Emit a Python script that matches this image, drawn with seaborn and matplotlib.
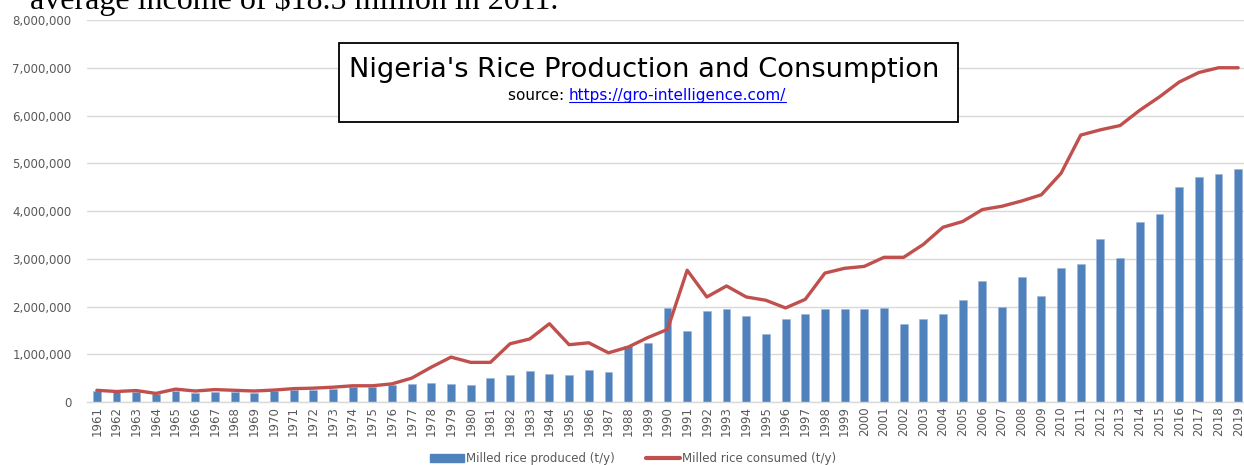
import pandas as pd
import matplotlib.pyplot as plt
import seaborn as sns
from matplotlib.patches import Patch, Rectangle
from matplotlib.lines import Line2D
from matplotlib.ticker import FuncFormatter, MultipleLocator

years = [str(y) for y in range(1961, 2020)]

# milled rice produced (t/y)
produced = [220000, 200000, 200000, 165000, 230000, 195000, 210000, 200000, 195000, 220000,
            245000, 260000, 280000, 310000, 310000, 350000, 385000, 390000, 370000, 360000,
            510000, 560000, 640000, 590000, 560000, 660000, 620000, 1170000, 1240000, 1970000,
            1480000, 1900000, 1940000, 1810000, 1430000, 1740000, 1850000, 1940000, 1940000, 1940000,
            1960000, 1630000, 1740000, 1850000, 2130000, 2530000, 1990000, 2620000, 2220000, 2810000,
            2880000, 3410000, 3020000, 3760000, 3930000, 4510000, 4720000, 4780000, 4890000]

# milled rice consumed (t/y)
consumed = [245000, 220000, 240000, 180000, 270000, 230000, 260000, 245000, 230000, 250000,
            280000, 290000, 310000, 340000, 340000, 380000, 500000, 730000, 940000, 830000,
            830000, 1220000, 1320000, 1640000, 1200000, 1240000, 1030000, 1150000, 1350000, 1520000,
            2760000, 2200000, 2430000, 2200000, 2130000, 1970000, 2150000, 2700000, 2800000, 2840000,
            3030000, 3030000, 3300000, 3660000, 3780000, 4030000, 4100000, 4210000, 4340000, 4790000,
            5590000, 5700000, 5790000, 6110000, 6390000, 6700000, 6900000, 7000000, 7000000]

df = pd.DataFrame({'year': years, 'produced': produced, 'consumed': consumed})

BLUE = '#4F81BD'
RED = '#C0504D'
GREY = '#595959'

sns.set_style('white')
plt.rcParams['font.family'] = ['DejaVu Sans']

W, H = 1244, 465
fig = plt.figure(figsize=(W / 100, H / 100), dpi=100)
ax = fig.add_axes([87 / W, (H - 402) / H, (1248 - 87) / W, (402 - 20) / H])

sns.barplot(data=df, x='year', y='produced', color=BLUE, width=0.4, ax=ax,
            edgecolor='#9DB5DA', linewidth=0.4, saturation=1)
sns.lineplot(data=df, x='year', y='consumed', color=RED, lw=2.4, ax=ax, sort=False)

ax.set_xlim(-0.5, len(years) - 0.5)
ax.set_ylim(0, 8000000)
ax.yaxis.set_major_locator(MultipleLocator(1000000))
ax.yaxis.set_major_formatter(FuncFormatter(lambda v, p: f'{v:,.0f}'))
ax.yaxis.grid(True, color='#D9D9D9', lw=1.0)
ax.set_axisbelow(True)
ax.set_xlabel('')
ax.set_ylabel('')
for s in ['left', 'right', 'top']:
    ax.spines[s].set_visible(False)
ax.spines['bottom'].set_color('#D9D9D9')
ax.spines['bottom'].set_linewidth(1.0)

ax.tick_params(axis='y', length=0, pad=11, labelsize=8.5, labelcolor=GREY)
ax.tick_params(axis='x', which='major', length=0, pad=3, labelsize=8.5, labelcolor=GREY,
               rotation=90)
ax.set_xticks([i - 0.5 for i in range(len(years) + 1)], minor=True)
ax.tick_params(axis='x', which='minor', length=5, color='#D9D9D9', width=1.0)

# title box
fig.patches.append(Rectangle((339 / W, 1 - 122 / H), (958 - 339) / W, (122 - 43) / H,
                             transform=fig.transFigure, facecolor='white', edgecolor='black',
                             lw=1.3, zorder=5))
fig.text(644 / W, 1 - 77 / H, "Nigeria's Rice Production and Consumption",
         ha='center', va='baseline', fontsize=19.6, color='black', zorder=6)
fig.text(569 / W, 1 - 100 / H, 'source: ', ha='right', va='baseline', fontsize=11,
         color='black', zorder=6)
link = fig.text(569 / W, 1 - 100 / H, 'https://gro-intelligence.com/', ha='left',
                va='baseline', fontsize=11, color='#0000FF', zorder=6)
fig.canvas.draw()
bb = link.get_window_extent().transformed(fig.transFigure.inverted())
fig.add_artist(Line2D([bb.x0, bb.x1], [1 - 102.5 / H, 1 - 102.5 / H], color='#0000FF', lw=0.8,
                      transform=fig.transFigure, zorder=6))

# clipped sentence from the surrounding document
fig.text(30 / W, 1 - 9.5 / H, 'average income of $18.5 million in 2011.',
         family=['Liberation Serif'], fontsize=23, color='black', va='baseline', ha='left')

# legend
fig.legend(handles=[Patch(facecolor=BLUE, edgecolor=BLUE),
                    Line2D([0], [0], color=RED, lw=3)],
           labels=['Milled rice produced (t/y)', 'Milled rice consumed (t/y)'],
           loc='center', bbox_to_anchor=(633 / W, 6.5 / H), ncol=2, frameon=False,
           fontsize=8.5, handlelength=2.9, handleheight=0.75, handletextpad=0.17,
           columnspacing=2.6, borderpad=0, borderaxespad=0, labelcolor=GREY)

fig.savefig('out.png', dpi=100)
